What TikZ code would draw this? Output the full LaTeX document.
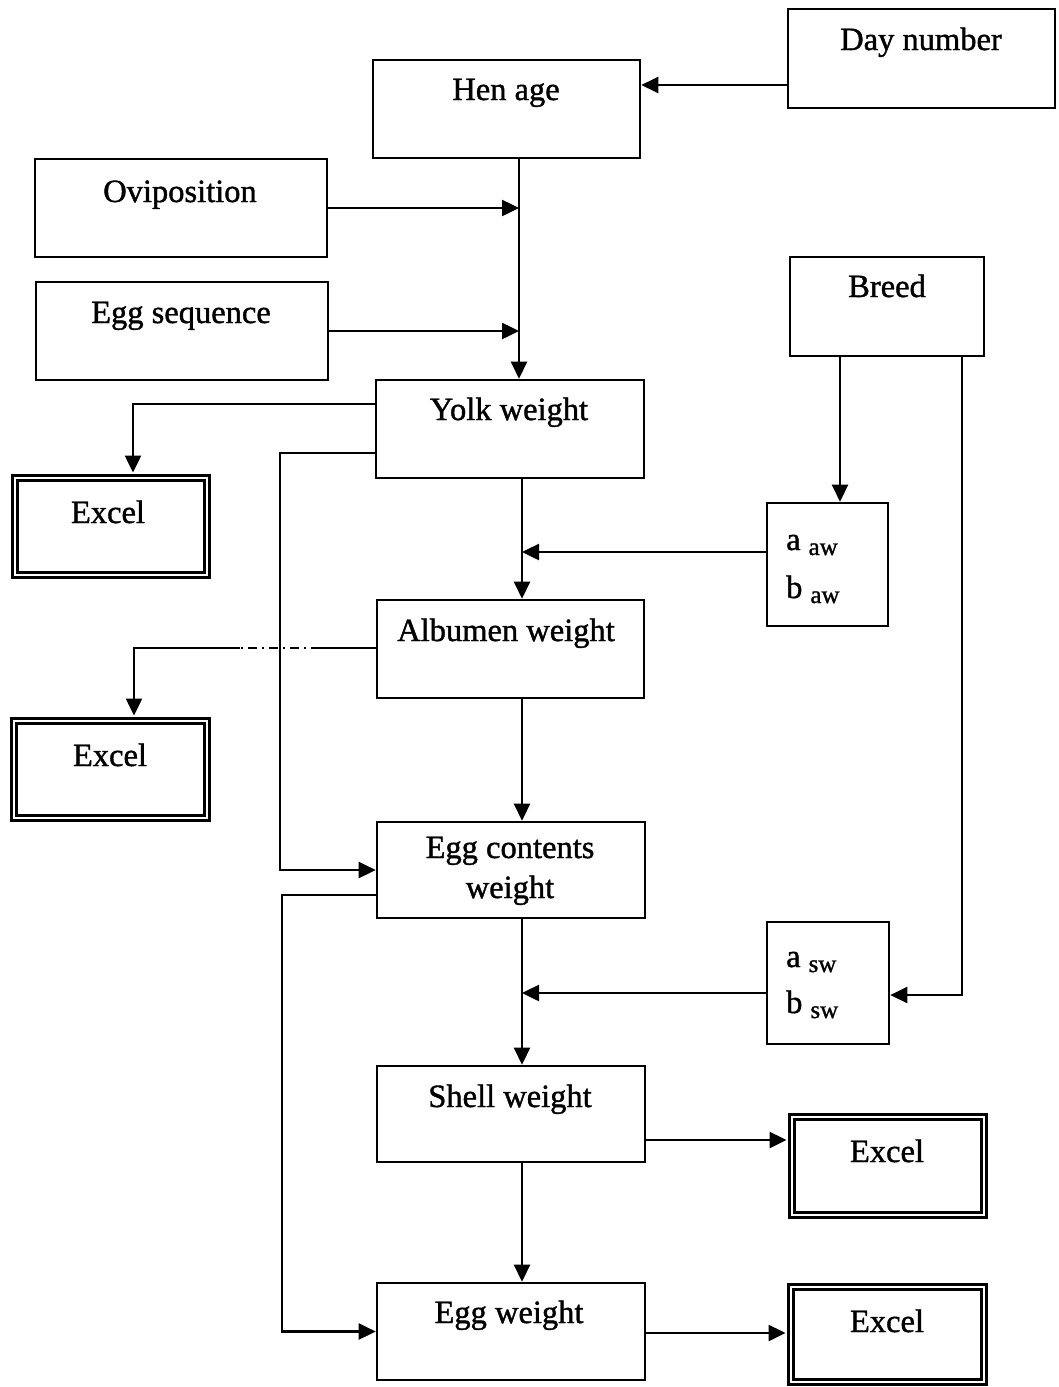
\documentclass[tikz,border=0pt]{standalone}
\usepackage{fontspec}
\setmainfont{Liberation Serif}[FakeBold=1.2]
\usetikzlibrary{arrows.meta}

\begin{document}
\begin{tikzpicture}[
  x=1pt, y=-1pt,
  box/.style={draw, line width=2.6pt, rectangle, inner sep=0pt},
  xlbox/.style={draw, double, line width=3pt, double distance=2.4pt, rectangle, inner sep=0pt},
  txt/.style={anchor=base, inner sep=0pt, font=\fontsize{32.5}{40}\selectfont},
  parm/.style={anchor=base west, inner sep=0pt, font=\fontsize{32.5}{40}\selectfont},
  conn/.style={line width=2.5pt},
  arr/.style={conn, -{Triangle[length=17pt, width=16pt]}},
  dashdot/.style={line width=2.5pt, dash pattern=on 9pt off 5pt on 2pt off 5pt},
]
\useasboundingbox (0,0) rectangle (1059,1387);

% input boxes
\node[box, minimum width=267pt, minimum height=99pt] (day)   at (921.5,58.5) {};
\node[box, minimum width=267pt, minimum height=98pt] (hen)   at (506.5,109) {};
\node[box, minimum width=292pt, minimum height=98pt] (ovi)   at (181,208) {};
\node[box, minimum width=292pt, minimum height=98pt] (seq)   at (182,331) {};
\node[box, minimum width=194pt, minimum height=99pt] (breed) at (887,306.5) {};

% computed weights
\node[box, minimum width=268pt, minimum height=98pt] (yolk)  at (510,429) {};
\node[box, minimum width=267pt, minimum height=98pt] (alb)   at (510.5,649) {};
\node[box, minimum width=268pt, minimum height=96pt] (cont)  at (511,870) {};
\node[box, minimum width=268pt, minimum height=96pt] (shell) at (511,1114) {};
\node[box, minimum width=268pt, minimum height=97pt] (eggw)  at (511,1331.5) {};

% coefficient boxes
\node[box, minimum width=121pt, minimum height=123pt] (aaw) at (827.5,564.5) {};
\node[box, minimum width=122pt, minimum height=122pt] (asw) at (828,983) {};

% spreadsheet outputs
\node[xlbox, minimum width=192pt, minimum height=97pt] (ex1) at (111,526.5) {};
\node[xlbox, minimum width=193pt, minimum height=97pt] (ex2) at (110.5,769.5) {};
\node[xlbox, minimum width=192pt, minimum height=98pt] (ex3) at (888,1166) {};
\node[xlbox, minimum width=193pt, minimum height=95pt] (ex4) at (887.5,1334.5) {};

% labels
\node[txt] (dayT)   at (921,50)   {Day number};
\node[txt] (henT)   at (506,100)  {Hen age};
\node[txt] (oviT)   at (180,202)  {Oviposition};
\node[txt] (seqT)   at (181,323)  {Egg sequence};
\node[txt] (breedT) at (887,297)  {Breed};
\node[txt] (yolkT)  at (509,420)  {Yolk weight};
\node[txt] (albT)   at (506,641)  {Albumen weight};
\node[txt] (contT)  at (510,858)  {Egg contents};
\node[txt] (contU)  at (510,898)  {weight};
\node[txt] (shellT) at (510,1107) {Shell weight};
\node[txt] (eggwT)  at (509,1323) {Egg weight};
\node[txt] (ex1T)   at (108,523)  {Excel};
\node[txt] (ex2T)   at (110,766)  {Excel};
\node[txt] (ex3T)   at (887,1162) {Excel};
\node[txt] (ex4T)   at (887,1332) {Excel};

\newcommand{\subw}[1]{\hspace{8pt}\raisebox{-5pt}{\fontsize{25}{28}\selectfont #1}}
\node[parm] (aawA) at (786,550)  {a\subw{aw}};
\node[parm] (aawB) at (786,598)  {b\subw{aw}};
\node[parm] (aswA) at (786,967)  {a\subw{sw}};
\node[parm] (aswB) at (786,1013) {b\subw{sw}};

% junction points on the main chain
\coordinate (trunkA) at (519,0);
\coordinate (trunkB) at (522,0);
\coordinate (dashR) at (320,648);
\coordinate (dashL) at (240,648);

% connectors
\draw[arr] (day.west |- 0,85) -- (hen.east |- 0,85);
\draw[arr] (trunkA |- hen.south) -- (trunkA |- yolk.north);
\draw[arr] (ovi.east) -- (ovi.east -| trunkA);
\draw[arr] (seq.east) -- (seq.east -| trunkA);

\draw[arr, shorten >=4pt] (yolk.west |- 0,404) -| (133,0 |- ex1.north);
\draw[arr] (yolk.west |- 0,453) -| (280,0 |- cont.west) -- (cont.west);
\draw[arr] (trunkB |- yolk.south) -- (trunkB |- alb.north);
\draw[arr] (aaw.west |- 0,552) -- (trunkB |- 0,552);

\draw[arr] (840,0 |- breed.south) -- (840,0 |- aaw.north);
\draw[arr] (962,0 |- breed.south) |- (asw.east |- 0,995);

\draw[conn] (alb.west |- dashR) -- (dashR);
\draw[dashdot] (dashR) -- (dashL);
\draw[arr, shorten >=4pt] (dashL) -| (134,0 |- ex2.north);
\draw[arr] (trunkB |- alb.south) -- (trunkB |- cont.north);

\draw[arr] (cont.west |- 0,895) -| (282,0 |- eggw.west) -- (eggw.west);
\draw[arr] (trunkB |- cont.south) -- (trunkB |- shell.north);
\draw[arr] (asw.west |- 0,993) -- (trunkB |- 0,993);

\draw[arr, shorten >=4pt] (shell.east |- 0,1140) -- (ex3.west |- 0,1140);
\draw[arr] (trunkB |- shell.south) -- (trunkB |- eggw.north);
\draw[arr, shorten >=4pt] (eggw.east |- 0,1333) -- (ex4.west |- 0,1333);
\end{tikzpicture}
\end{document}
